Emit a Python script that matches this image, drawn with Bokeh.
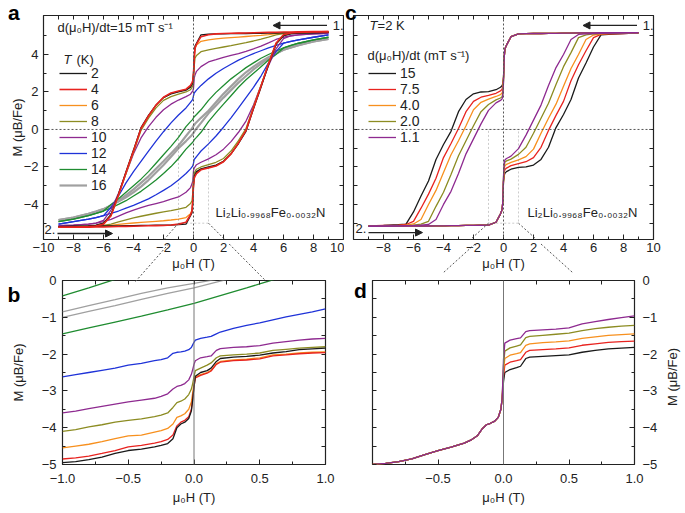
from bokeh.plotting import figure
from bokeh.models import (LinearAxis, FixedTicker, Range1d, Label, Arrow, NormalHead, Div,
                          Legend, LegendItem, Span, BoxAnnotation, CustomJSTickFormatter)
from bokeh.core.properties import value
from bokeh.layouts import column, row
from bokeh.embed import file_html
from bokeh.resources import INLINE

# ---------------- panel a : 15 mT/s, several temperatures -----------------
# sweep "1." (field decreasing +9 T -> -9 T); sweep "2." is its point mirror
H_A = [-9, -8, -7, -6.5, -6, -5.5, -5, -4.5, -4, -3.5, -3, -2.5, -2, -1.5, -1, -0.5,
       -0.2, -0.1, -0.05, 0, 0.05, 0.1, 0.2, 0.5, 1, 1.5, 2, 2.5, 3, 3.5, 4, 4.5, 5,
       5.5, 6, 6.5, 7, 8, 9]
M_A_2K = [-5.18, -5.16, -5.14, -5.1, -5.0, -4.55, -3.45, -2.25, -1.1, 0.1, 0.75, 1.3, 1.7,
          1.9, 2.0, 2.1, 2.25, 2.4, 2.5, 3.0, 3.9, 4.45, 4.6, 5.05, 5.08, 5.1, 5.1, 5.11,
          5.12, 5.12, 5.13, 5.13, 5.14, 5.14, 5.15, 5.15, 5.16, 5.17, 5.18]
M_A_4K = [-5.22, -5.2, -5.18, -5.15, -5.05, -4.6, -3.5, -2.3, -1.15, 0.05, 0.72, 1.3, 1.72,
          1.95, 2.05, 2.15, 2.35, 2.5, 2.6, 3.0, 3.8, 4.35, 4.55, 4.95, 5.05, 5.1, 5.12, 5.13,
          5.14, 5.15, 5.16, 5.17, 5.18, 5.19, 5.2, 5.2, 5.21, 5.22, 5.22]
M_A_6K = [-5.21, -5.19, -5.17, -5.15, -5.05, -4.6, -3.5, -2.3, -1.15, 0.05, 0.72, 1.3, 1.7,
          1.93, 2.03, 2.12, 2.3, 2.45, 2.55, 2.95, 3.8, 4.3, 4.5, 4.7, 4.78, 4.83, 4.87, 4.9,
          4.93, 4.96, 4.99, 5.02, 5.06, 5.12, 5.15, 5.17, 5.18, 5.2, 5.21]
M_A_8K = [-5.2, -5.18, -5.16, -5.13, -5.0, -4.55, -3.5, -2.35, -1.2, -0.05, 0.6, 1.15, 1.55,
          1.75, 1.88, 2.0, 2.12, 2.25, 2.35, 2.6, 3.4, 3.8, 3.95, 4.15, 4.25, 4.33, 4.4, 4.47,
          4.55, 4.63, 4.72, 4.82, 4.93, 5.05, 5.12, 5.15, 5.16, 5.18, 5.2]
M_A_10K = [-5.13, -5.1, -5.05, -5.0, -4.85, -4.3, -3.4, -2.35, -1.3, -0.45, 0.15, 0.65, 1.05,
           1.35, 1.57, 1.75, 1.88, 2.0, 2.05, 2.2, 2.75, 2.9, 3.1, 3.35, 3.6, 3.72, 3.85, 3.95,
           4.05, 4.17, 4.3, 4.45, 4.62, 4.8, 4.92, 5.0, 5.05, 5.1, 5.13]
M_A_12K = [-5.05, -4.92, -4.78, -4.7, -4.6, -4.15, -3.55, -2.85, -2.25, -1.7, -1.15, -0.62,
           -0.12, 0.35, 0.77, 1.15, 1.45, 1.55, 1.6, 1.8, 1.95, 2.0, 2.1, 2.35, 2.7, 3.0, 3.25,
           3.48, 3.7, 3.88, 4.05, 4.2, 4.35, 4.48, 4.6, 4.7, 4.78, 4.92, 5.05]
M_A_14K = [-4.92, -4.78, -4.6, -4.48, -4.35, -4.0, -3.7, -3.35, -3.0, -2.65, -2.25, -1.8,
           -1.35, -0.9, -0.42, 0.15, 0.42, 0.5, 0.55, 0.62, 0.68, 0.72, 0.8, 1.05, 1.55, 1.98,
           2.35, 2.7, 3.0, 3.3, 3.55, 3.8, 4.0, 4.18, 4.35, 4.48, 4.6, 4.78, 4.92]
M_A_16K = [-4.83, -4.7, -4.5, -4.38, -4.25, -4.05, -3.8, -3.5, -3.2, -2.85, -2.5, -2.1, -1.7,
           -1.28, -0.86, -0.35, -0.05, 0.05, 0.12, 0.19, 0.24, 0.3, 0.38, 0.62, 1.0, 1.45, 1.9,
           2.3, 2.7, 3.05, 3.35, 3.62, 3.85, 4.05, 4.25, 4.38, 4.5, 4.7, 4.83]
T_LABELS = ["2", "4", "6", "8", "10", "12", "14", "16"]

# ---------------- panel c : 2 K, several sweep rates -----------------
H_C = H_A
M_C_POS = [3.9, 4.3, 4.5, 4.95, 5.1, 5.11, 5.12, 5.12, 5.13, 5.13, 5.14, 5.14, 5.15, 5.15,
           5.15, 5.16, 5.16, 5.16, 5.17]          # H = 0.05 ... 9, common to all rates
M_C_15 = [-5.15, -5.12, -5.08, -5.05, -4.4, -3.55, -2.75, -1.6, -0.8, -0.1, 0.95, 1.6, 1.9,
          2.0, 2.02, 2.12, 2.25, 2.33, 2.43, 2.8]
M_C_7_5 = [-5.15, -5.12, -5.1, -5.07, -4.9, -4.2, -3.45, -2.6, -1.5, -0.75, 0.05, 0.95, 1.5,
           1.72, 1.82, 1.93, 2.06, 2.13, 2.28, 2.75]
M_C_4_0 = [-5.15, -5.13, -5.12, -5.1, -5.04, -4.8, -4.0, -3.25, -2.3, -1.35, -0.6, 0.2, 1.05,
           1.45, 1.62, 1.76, 1.86, 1.93, 2.08, 2.7]
M_C_2_0 = [-5.15, -5.14, -5.13, -5.12, -5.1, -5.05, -4.9, -4.1, -3.35, -2.4, -1.4, -0.6, 0.2,
           0.95, 1.33, 1.58, 1.68, 1.74, 1.9, 2.6]
M_C_1_1 = [-5.15, -5.15, -5.14, -5.13, -5.12, -5.1, -5.07, -4.8, -4.0, -3.3, -2.35, -1.3,
           -0.5, 0.3, 1.02, 1.42, 1.55, 1.62, 1.75, 2.5]
RATE_LABELS = ["15", "7.5", "4.0", "2.0", "1.1"]

# ---------------- panel b : zoom of a (sweep 2.) -----------------
H_Z = [-1, -0.9, -0.8, -0.7, -0.6, -0.5, -0.4, -0.3, -0.25, -0.2, -0.16, -0.13, -0.1, -0.07,
       -0.04, -0.02, -0.01, 0, 0.01, 0.05, 0.1, 0.13, 0.17, 0.2, 0.3, 0.4, 0.5, 0.6, 0.7,
       0.8, 0.9, 1.0]
B_2K = [-4.95, -4.92, -4.87, -4.8, -4.7, -4.62, -4.58, -4.52, -4.48, -4.43, -4.3, -4.0, -3.9,
        -3.85, -3.75, -3.55, -3.25, -2.9, -2.6, -2.5, -2.45, -2.38, -2.2, -2.12, -2.08, -2.06,
        -2.03, -1.97, -1.93, -1.88, -1.86, -1.84]
B_4K = [-4.85, -4.82, -4.77, -4.7, -4.62, -4.52, -4.48, -4.42, -4.38, -4.32, -4.2, -3.95,
        -3.85, -3.8, -3.7, -3.5, -3.2, -2.9, -2.65, -2.58, -2.52, -2.46, -2.28, -2.22, -2.18,
        -2.16, -2.13, -2.05, -2.02, -1.99, -1.97, -1.96]
B_6K = [-4.55, -4.5, -4.45, -4.38, -4.3, -4.22, -4.2, -4.12, -4.08, -4.02, -3.9, -3.72, -3.68,
        -3.62, -3.5, -3.3, -3.05, -2.8, -2.62, -2.56, -2.5, -2.44, -2.26, -2.2, -2.16, -2.14,
        -2.1, -2.02, -2.0, -1.97, -1.95, -1.94]
B_8K = [-4.1, -4.05, -3.98, -3.92, -3.85, -3.8, -3.76, -3.7, -3.66, -3.6, -3.45, -3.32, -3.28,
        -3.22, -3.1, -2.95, -2.8, -2.62, -2.45, -2.38, -2.3, -2.24, -2.1, -2.05, -2.02, -2.0,
        -1.97, -1.9, -1.87, -1.84, -1.82, -1.8]
B_10K = [-3.6, -3.55, -3.48, -3.42, -3.36, -3.3, -3.25, -3.2, -3.15, -3.08, -2.95, -2.88,
         -2.85, -2.8, -2.7, -2.55, -2.42, -2.28, -2.18, -2.1, -2.07, -2.05, -1.9, -1.85,
         -1.82, -1.8, -1.77, -1.7, -1.66, -1.62, -1.59, -1.57]
B_12K = [-2.62, -2.56, -2.5, -2.44, -2.38, -2.3, -2.25, -2.18, -2.15, -2.1, -1.98, -1.95,
         -1.94, -1.92, -1.88, -1.82, -1.75, -1.68, -1.62, -1.57, -1.54, -1.52, -1.45, -1.4,
         -1.3, -1.22, -1.15, -1.07, -0.99, -0.92, -0.85, -0.77]
H_Z2 = [-1.0, -0.8, -0.6, -0.4, -0.2, 0.0, 0.2, 0.4, 0.6, 0.8, 1.0]
B_14K_UP = [-1.45, -1.29, -1.13, -0.97, -0.8, -0.62, -0.41, -0.2, 0.02, 0.22, 0.42]
B_14K_DOWN = [-0.42, -0.2, 0.03, 0.25, 0.45, 0.65, 0.85, 1.03, 1.2, 1.36, 1.5]
B_16K_UP = [-1.0, -0.84, -0.68, -0.51, -0.35, -0.2, -0.02, 0.16, 0.33, 0.5, 0.66]
B_16K_DOWN = [-0.85, -0.68, -0.52, -0.35, -0.2, -0.08, 0.05, 0.2, 0.36, 0.52, 0.68]

# ---------------- panel d : zoom of c (sweep 2.) -----------------
D_NEG = [-5.0, -4.97, -4.92, -4.85, -4.73, -4.62, -4.53, -4.42, -4.34, -4.22, -4.02, -3.92,
         -3.88, -3.83, -3.72, -3.5, -3.2]       # H = -1 ... -0.01, common to all rates
D_15 = [-2.75, -2.5, -2.42, -2.37, -2.33, -2.12, -2.08, -2.06, -2.04, -2.02, -1.95, -1.9,
        -1.86, -1.84, -1.82]
D_7_5 = [-2.6, -2.3, -2.22, -2.18, -2.15, -1.95, -1.9, -1.88, -1.86, -1.83, -1.76, -1.72,
         -1.68, -1.66, -1.65]
D_4_0 = [-2.45, -2.12, -2.03, -1.99, -1.96, -1.76, -1.72, -1.69, -1.67, -1.64, -1.57, -1.53,
         -1.49, -1.47, -1.45]
D_2_0 = [-2.3, -1.92, -1.83, -1.78, -1.75, -1.55, -1.52, -1.49, -1.46, -1.43, -1.36, -1.31,
         -1.27, -1.24, -1.22]
D_1_1 = [-2.15, -1.7, -1.62, -1.58, -1.56, -1.39, -1.36, -1.34, -1.32, -1.29, -1.18, -1.12,
         -1.06, -1.01, -0.96]

# ---------------- ticks / ranges / texts -----------------
XT_A = [-10, -8, -6, -4, -2, 0, 2, 4, 6, 8, 10]
XM_A = [-9, -7, -5, -3, -1, 1, 3, 5, 7, 9]
XT_C = [-8, -6, -4, -2, 0, 2, 4, 6, 8, 10]
XM_C = [-10, -9, -7, -5, -3, -1, 1, 3, 5, 7, 9]
YT_A = [-4, -2, 0, 2, 4]
YM_A = [-5, -3, -1, 1, 3, 5]
XT_B = [-1, -0.5, 0, 0.5, 1]
XT_D = [-0.5, 0, 0.5, 1]
XM_B = [-0.75, -0.25, 0.25, 0.75]
YT_B = [0, -1, -2, -3, -4, -5]
YM_B = [-0.5, -1.5, -2.5, -3.5, -4.5]
RANGE_H = (-10, 10)
RANGE_M = (-5.87, 6.08)
ZOOM_H = (-1, 1)
ZOOM_M = (-5, 0)
CONN_A = ((-4.2, -7.9), (4.6, -7.9))      # where the zoom guide lines of a end
CONN_C = ((-4.33, -7.41), (4.33, -7.41))  # same for c
X_LABEL = "μ₀H (T)"
Y_LABEL = "M (μB/Fe)"
FORMULA = "Li₂Li₀.₉₉₆₈Fe₀.₀₀₃₂N"

FONT = "Liberation Sans"
INK = "#222222"
GUIDE = "#555555"
COL_T = ["#1a1a1a", "#e8231f", "#f7901e", "#8c8c22", "#8e2a90", "#1f33d8", "#1f8c30", "#a0a0a0"]
COL_R = COL_T[:5]

# layout geometry (pixels): figure sizes and borders
GEO_A = dict(w=344, h=273, l=43, r=1, t=15, b=34)
GEO_C = dict(w=333, h=273, l=9, r=24, t=15, b=34)
GEO_B = dict(w=344, h=234, l=62, r=19, t=7, b=43)
GEO_D = dict(w=334, h=234, l=28, r=44, t=7, b=43)


def mirror(h, m):
    # sweep 2. obtained from sweep 1. : M_up(H) = -M_down(-H)
    return [-v for v in h[::-1]], [-v for v in m[::-1]]


def fmt(dec):
    return CustomJSTickFormatter(
        code="return (tick < 0 ? '\u2212' : '') + Math.abs(tick).toFixed(%d);" % dec)


def make_axis(ticks, minor, dec, standoff=4, label=None, label_standoff=2):
    ax = LinearAxis(ticker=FixedTicker(ticks=ticks, minor_ticks=minor))
    ax.axis_line_color = None
    ax.major_tick_in = 5
    ax.major_tick_out = 0
    ax.minor_tick_in = 3
    ax.minor_tick_out = 0
    ax.major_tick_line_color = INK
    ax.minor_tick_line_color = INK
    ax.formatter = fmt(dec)
    ax.major_label_text_font = FONT
    ax.major_label_text_font_size = "13px"
    ax.major_label_text_color = INK
    ax.major_label_standoff = standoff
    if label:
        ax.axis_label = label
        ax.axis_label_text_font = FONT
        ax.axis_label_text_font_size = "13px"
        ax.axis_label_text_font_style = "normal"
        ax.axis_label_text_color = INK
        ax.axis_label_standoff = label_standoff
    return ax


def tick_axis(positions):
    # ticks only, no labels (all positions given as minor ticks)
    ax = LinearAxis(ticker=FixedTicker(ticks=[], minor_ticks=positions))
    ax.axis_line_color = None
    ax.major_tick_line_color = None
    ax.minor_tick_in = 4
    ax.minor_tick_out = 0
    ax.minor_tick_line_color = INK
    ax.major_label_standoff = 0
    return ax


def make_fig(g, xr, yr):
    p = figure(width=g["w"], height=g["h"], x_range=Range1d(*xr), y_range=Range1d(*yr),
               x_axis_location=None, y_axis_location=None,
               output_backend="svg", toolbar_location=None,
               min_border_left=g["l"], min_border_right=g["r"],
               min_border_top=g["t"], min_border_bottom=g["b"])
    p.grid.grid_line_color = None
    p.outline_line_color = INK
    p.outline_line_width = 1.2
    p.background_fill_color = "white"
    p.border_fill_color = "white"
    return p


def text(p, x, y, s, size="13px", style="normal", xoff=0, baseline="middle", align="left"):
    p.add_layout(Label(x=x, y=y, text=s, x_offset=xoff, text_font=FONT, text_font_size=size,
                       text_font_style=style, text_color=INK, text_baseline=baseline,
                       text_align=align))


def guides_big(p, conn):
    p.add_layout(Span(location=0, dimension="width", line_color=GUIDE, line_dash="2 2", line_width=1))
    p.add_layout(Span(location=0, dimension="height", line_color=GUIDE, line_dash="2 2", line_width=1))
    p.add_layout(BoxAnnotation(left=ZOOM_H[0], right=ZOOM_H[1], bottom=ZOOM_M[0], top=ZOOM_M[1],
                               fill_alpha=0, line_color=GUIDE, line_dash="2 2", line_width=1))
    for xs, (xe, ye) in zip(ZOOM_H, conn):
        p.add_layout(Arrow(end=None, x_start=xs, y_start=ZOOM_M[0], x_end=xe, y_end=ye,
                           line_color=GUIDE, line_dash="2 2", line_width=1))


def sweep_arrows(p, xa1, xa2, y1, y2):
    p.add_layout(Arrow(end=NormalHead(size=7, fill_color=INK, line_color=INK), x_start=xa1,
                       y_start=y1, x_end=5.3, y_end=y1, line_color=INK, line_width=1.3))
    text(p, 10, y1, "1.", align="right")
    p.add_layout(Arrow(end=NormalHead(size=7, fill_color=INK, line_color=INK), x_start=xa2,
                       y_start=y2, x_end=-5.4, y_end=y2, line_color=INK, line_width=1.3))


def make_legend(items, loc):
    return Legend(items=items, location=loc, orientation="vertical", glyph_width=28,
                  glyph_height=16, label_height=16, label_standoff=4, spacing=0, padding=0,
                  margin=0, border_line_color=None, background_fill_alpha=0,
                  label_text_font=FONT, label_text_font_size="14px", label_text_color=INK)


# ======================= panel a =======================
pa = make_fig(GEO_A, RANGE_H, RANGE_M)
pa.add_layout(make_axis(XT_A, XM_A, 0, standoff=3, label=X_LABEL, label_standoff=1), "below")
pa.add_layout(tick_axis(XT_A + XM_A), "above")
pa.add_layout(make_axis(YT_A, YM_A, 0, standoff=5, label=Y_LABEL, label_standoff=-4), "left")
pa.add_layout(tick_axis(YT_A + YM_A), "right")
guides_big(pa, CONN_A)

series_a = [M_A_2K, M_A_4K, M_A_6K, M_A_8K, M_A_10K, M_A_12K, M_A_14K, M_A_16K]
widths_a = [1.3, 1.6, 1.3, 1.3, 1.3, 1.3, 1.3, 2.2]
rend_a = {}
for i in [7, 6, 5, 4, 3, 2, 0, 1]:
    m = series_a[i]
    r1 = pa.line(H_A, m, line_color=COL_T[i], line_width=widths_a[i])
    hu, mu = mirror(H_A, m)
    pa.line(hu, mu, line_color=COL_T[i], line_width=widths_a[i])
    rend_a[i] = r1
pa.add_layout(make_legend([LegendItem(label=value(T_LABELS[i]), renderers=[rend_a[i]])
                           for i in range(8)], (16, 46)))
text(pa, -9.07, 5.44, "d(μ₀H)/dt=15 mT s⁻¹")
text(pa, -8.67, 3.73, "T", style="italic")
text(pa, -8.67, 3.73, "(K)", xoff=13)
text(pa, 1.47, -4.43, FORMULA)
sweep_arrows(pa, 8.9, -9.07, 5.55, -5.55)
text(pa, -9.93, -5.33, "2.")

# ======================= panel c =======================
pc = make_fig(GEO_C, RANGE_H, RANGE_M)
pc.add_layout(make_axis(XT_C, XM_C, 0, standoff=3, label=X_LABEL, label_standoff=1), "below")
pc.add_layout(tick_axis(XT_A + XM_A), "above")
pc.add_layout(tick_axis(YT_A + YM_A), "left")
pc.add_layout(tick_axis(YT_A + YM_A), "right")
guides_big(pc, CONN_C)

series_c = [M_C_15, M_C_7_5, M_C_4_0, M_C_2_0, M_C_1_1]
rend_c = []
for i, neg in enumerate(series_c):
    m = neg + M_C_POS
    r1 = pc.line(H_C, m, line_color=COL_R[i], line_width=1.3)
    hu, mu = mirror(H_C, m)
    pc.line(hu, mu, line_color=COL_R[i], line_width=1.3)
    rend_c.append(r1)
pc.add_layout(make_legend([LegendItem(label=value(RATE_LABELS[i]), renderers=[rend_c[i]])
                           for i in range(5)], (15, 94)))
text(pc, -8.93, 5.55, "T", style="italic")
text(pc, -8.93, 5.55, "=2 K", xoff=8)
text(pc, -9.07, 3.95, "d(μ₀H)/dt (mT s⁻¹)")
text(pc, 1.6, -4.43, FORMULA)
sweep_arrows(pc, 8.9, -9.0, 5.55, -5.5)
text(pc, -9.87, -5.3, "2.")

# ======================= panel b =======================
pb = make_fig(GEO_B, ZOOM_H, ZOOM_M)
pb.add_layout(make_axis(XT_B, XM_B, 1, standoff=9, label=X_LABEL, label_standoff=4), "below")
pb.add_layout(tick_axis(XT_B + XM_B), "above")
pb.add_layout(make_axis(YT_B, YM_B, 0, standoff=6, label=Y_LABEL, label_standoff=13), "left")
pb.add_layout(tick_axis(YT_B + YM_B), "right")
pb.add_layout(Span(location=0, dimension="height", line_color="#777777", line_width=1))
for m, c in [(B_16K_UP, COL_T[7]), (B_16K_DOWN, COL_T[7]), (B_14K_UP, COL_T[6]), (B_14K_DOWN, COL_T[6])]:
    pb.line(H_Z2, m, line_color=c, line_width=1.3)
for m, c in [(B_12K, COL_T[5]), (B_10K, COL_T[4]), (B_8K, COL_T[3]), (B_6K, COL_T[2]),
             (B_4K, COL_T[1]), (B_2K, COL_T[0])]:
    pb.line(H_Z, m, line_color=c, line_width=1.3)

# ======================= panel d =======================
pd = make_fig(GEO_D, ZOOM_H, ZOOM_M)
pd.add_layout(make_axis(XT_D, XM_B, 1, standoff=9, label=X_LABEL, label_standoff=4), "below")
pd.add_layout(tick_axis(XT_B + XM_B), "above")
pd.add_layout(tick_axis(YT_B + YM_B), "left")
pd.add_layout(make_axis(YT_B, YM_B, 0, standoff=8), "right")
pd.add_layout(Span(location=0, dimension="height", line_color="#777777", line_width=1))
for i, pos in enumerate([D_15, D_7_5, D_4_0, D_2_0, D_1_1]):
    pd.line(H_Z, D_NEG + pos, line_color=COL_R[i], line_width=1.3)


# ==== overlay: panel letters, d's right-hand axis title, zoom guides outside frames ====
def frame_px(g, x0, y0, xr, yr, x, y):
    fl, fr = x0 + g["l"], x0 + g["w"] - g["r"]
    ft, fb = y0 + g["t"], y0 + g["h"] - g["b"]
    px = fl + (x - xr[0]) / (xr[1] - xr[0]) * (fr - fl)
    py = fb - (y - yr[0]) / (yr[1] - yr[0]) * (fb - ft)
    return px, py, fl, fr, ft, fb


svg_lines = ""
for g, x0, conn in [(GEO_A, 0, CONN_A), (GEO_C, GEO_A["w"], CONN_C)]:
    for xs, (xe, ye) in zip(ZOOM_H, conn):
        sx, sy, _, _, _, fb = frame_px(g, x0, 0, RANGE_H, RANGE_M, xs, ZOOM_M[0])
        ex, ey = frame_px(g, x0, 0, RANGE_H, RANGE_M, xe, ye)[:2]
        t = (fb - sy) / (ey - sy)
        bx = sx + t * (ex - sx)
        svg_lines += ('<line x1="%.1f" y1="%.1f" x2="%.1f" y2="%.1f" stroke="%s" '
                      'stroke-width="1" stroke-dasharray="2 2"/>' % (bx, fb, ex, ey, GUIDE))

# right-hand axis title of d, reading bottom-to-top like the left ones
_, _, _, fr_d, ft_d, fb_d = frame_px(GEO_D, GEO_B["w"], GEO_A["h"], ZOOM_H, ZOOM_M, 0, 0)
cx, cy = fr_d + 34, (ft_d + fb_d) / 2
ylabel_d = ('<div style="position:absolute;left:%.1fpx;top:%.1fpx;width:100px;height:16px;'
            'line-height:16px;text-align:center;white-space:nowrap;transform:rotate(-90deg);'
            'font-family:\'Liberation Sans\',sans-serif;font-size:13px;color:%s;">%s</div>'
            % (cx - 50, cy - 8, INK, Y_LABEL))

LETTERS = [("a", 3, -2.8), ("b", 2.5, 279.2), ("c", 340, -2.8), ("d", 349, 275.2)]
letters_html = "".join(
    '<div style="position:absolute;left:%spx;top:%spx;font-family:\'Liberation Sans\',sans-serif;'
    'font-size:21px;font-weight:bold;line-height:21px;color:#000;">%s</div>' % (x, y, t)
    for t, x, y in LETTERS)
overlay_html = ('<svg width="685" height="513" style="position:absolute;left:0;top:0;">%s</svg>%s%s'
                % (svg_lines, letters_html, ylabel_d))
overlay = Div(text=overlay_html, width=685, height=513,
              styles={"position": "absolute", "left": "0px", "top": "0px", "z-index": "10",
                      "pointer-events": "none", "overflow": "visible"})

layout = column(overlay, row(pa, pc), row(pb, pd), spacing=0)
open("out.html", "w").write(file_html(layout, INLINE))
